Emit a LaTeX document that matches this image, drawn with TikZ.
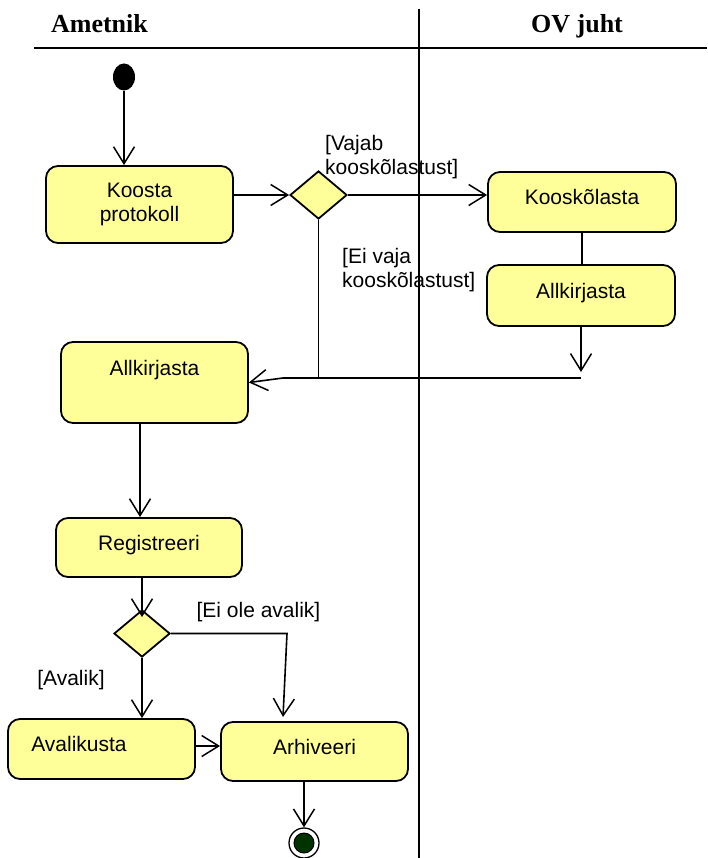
\documentclass[tikz,border=0pt]{standalone}
\usepackage{fontspec}
\setmainfont{Liberation Serif}
\setsansfont{Liberation Sans}
\usetikzlibrary{arrows.meta,shapes.geometric,calc}
\definecolor{actfill}{RGB}{255,255,153}
\definecolor{endgreen}{RGB}{0,51,0}
\begin{document}
\begin{tikzpicture}[x=1pt,y=-1pt,
  every node/.style={font=\sffamily\fontsize{21}{23.5}\selectfont},
  lane/.style={line width=1.8pt},
  head/.style={font=\rmfamily\bfseries\fontsize{26}{30}\selectfont, inner sep=0pt, anchor=base},
  act/.style={draw, line width=1.8pt, fill=actfill, rounded corners=12pt, inner sep=0pt},
  oneline/.style={text height=15pt, text depth=9pt},
  decision/.style={diamond, draw, line width=1.8pt, fill=actfill, inner sep=0pt},
  guard/.style={inner sep=0pt, align=left},
  flow/.style={line width=1.6pt},
  arr/.style={flow, -{Straight Barb[length=17pt,width=21pt,line width=1.5pt]}}
]
\useasboundingbox (0,0) rectangle (707,858);

% swimlanes
\coordinate (hl) at (34,48);
\coordinate (hr) at (707,48);
\coordinate (vt) at (419,9);
\coordinate (vb) at (419,858);
\draw[lane] (hl) -- (hr);
\draw[lane] (vt) -- (vb);
\node[head] (laneA) at (99.5,33) {Ametnik};
\node[head] (laneB) at (577,33) {OV juht};

% start
\node[ellipse, fill=black, minimum width=22pt, minimum height=27pt, inner sep=0pt] (start) at (124,77) {};

% activities
\node[act, minimum width=187pt, minimum height=77pt, align=center] (koosta) at (139.5,204.5) {Koosta\\protokoll};
\node[decision, minimum width=57pt, minimum height=48pt] (d1) at (318.5,195) {};
\node[act, oneline, minimum width=188pt, minimum height=60pt] (koosk) at (582,202) {Kooskõlasta};
\node[act, oneline, minimum width=188pt, minimum height=61pt] (allR) at (581,295.5) {Allkirjasta};
\node[act, minimum width=187pt, minimum height=81pt] (allL) at (154.5,382.5) {};
\node[inner sep=0pt] (allLtxt) at ($(allL.north)+(0,29)$) {Allkirjasta};
\node[act, oneline, minimum width=186pt, minimum height=59pt] (reg) at (149,547.5) {Registreeri};
\node[decision, minimum width=56pt, minimum height=47pt] (d2) at (142,633.5) {};
\node[act, minimum width=187pt, minimum height=60pt] (aval) at (101.5,749) {};
\node[inner sep=0pt, anchor=west] (avaltxt) at ($(aval.west)+(24,-5)$) {Avalikusta};
\node[act, oneline, minimum width=187pt, minimum height=59pt] (arh) at (314.5,751.5) {Arhiveeri};

% end
\node[circle, draw, line width=1.3pt, fill=white, minimum size=30pt, inner sep=0pt] (fin) at (304,843) {};
\node[circle, draw, line width=1pt, fill=endgreen, minimum size=20pt, inner sep=0pt] (fincore) at (fin) {};

% guards
\node[guard, anchor=west] (gVajab) at (325,157) {[Vajab\\kooskõlastust]};
\node[guard, anchor=west] (gEi) at (342,270) {[Ei vaja\\kooskõlastust]};
\node[guard] (gEiOle) at (258.5,612) {[Ei ole avalik]};
\node[guard] (gAvalik) at (71,680) {[Avalik]};

% junction points
\coordinate (rtip) at (581,372);
\coordinate (j1) at (581,378);
\coordinate (j2) at (283,378);
\coordinate (k1) at (287,632);
\coordinate (atip) at (283,717);

% flows
\draw[arr] (start.south) -- (start.south |- koosta.north);
\draw[arr] (d1.west -| koosta.east) -- (d1.west);
\draw[arr] (d1.east) -- (d1.east -| koosk.west);
\draw[flow] (koosk.south) -- (koosk.south |- allR.north);
\draw[arr] (allR.south) -- (rtip);
\draw[flow] (j1) -- (j2);
\draw[flow] (d1.south) -- (d1.south |- j2);
\draw[arr] (j2) -- (allL.east);
\draw[arr] ([xshift=-14.5pt]allL.south) -- ([xshift=-14.5pt]allL.south |- reg.north);
\draw[arr] (d2.north |- reg.south) -- ([yshift=-8pt]d2.north);
\draw[arr] (d2.east) -- (d2.east -| k1) -- (atip);
\draw[arr] (d2.south) -- (d2.south |- aval.north);
\draw[arr] ([yshift=3pt]aval.east) -- ([yshift=3pt]aval.east -| arh.west);
\draw[arr] (fin.north |- arh.south) -- (fin.north);
\end{tikzpicture}
\end{document}
